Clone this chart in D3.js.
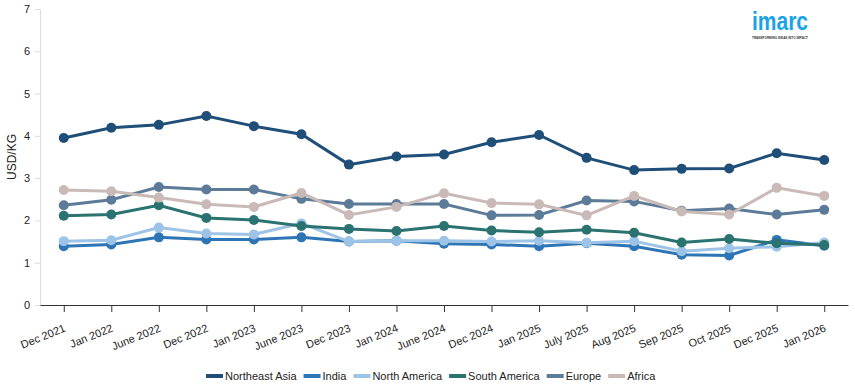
<!DOCTYPE html>
<html lang="en">
<head>
<meta charset="UTF-8">
<title>USD/KG prices by region</title>
<script src="https://d3js.org/d3.v7.min.js"></script>
<style>
    body { margin: 0; background: #fff; }
    svg { font-family: Arial, "Liberation Sans", sans-serif; }
</style>
</head>
<body>
<svg id="chart" width="855" height="390"></svg>
<script>
    // categories on the x axis
    var months = ['Dec 2021', 'Jan 2022', 'June 2022', 'Dec 2022', 'Jan 2023', 'June 2023',
        'Dec 2023', 'Jan 2024', 'June 2024', 'Dec 2024', 'Jan 2025', 'July 2025',
        'Aug 2025', 'Sep 2025', 'Oct 2025', 'Dec 2025', 'Jan 2026'];

    var northeastAsia = [3.95, 4.19, 4.26, 4.47, 4.23, 4.04, 3.32, 3.51, 3.56, 3.85, 4.02, 3.48, 3.19, 3.22, 3.23, 3.59, 3.43];
    var india = [1.39, 1.43, 1.60, 1.55, 1.55, 1.60, 1.50, 1.52, 1.45, 1.43, 1.39, 1.46, 1.39, 1.19, 1.17, 1.54, 1.40];
    var northAmerica = [1.51, 1.53, 1.83, 1.69, 1.67, 1.93, 1.50, 1.52, 1.52, 1.50, 1.52, 1.47, 1.51, 1.27, 1.34, 1.38, 1.48];
    var southAmerica = [2.11, 2.14, 2.36, 2.06, 2.01, 1.87, 1.80, 1.75, 1.87, 1.76, 1.72, 1.78, 1.71, 1.48, 1.56, 1.46, 1.42];
    var europe = [2.36, 2.49, 2.79, 2.73, 2.73, 2.51, 2.39, 2.39, 2.39, 2.12, 2.13, 2.47, 2.45, 2.23, 2.28, 2.14, 2.25];
    var africa = [2.72, 2.69, 2.54, 2.38, 2.32, 2.65, 2.13, 2.32, 2.64, 2.41, 2.38, 2.12, 2.58, 2.21, 2.14, 2.77, 2.58];

    var yTicks = [0, 1, 2, 3, 4, 5, 6, 7];

    var series = [
        { name: 'Northeast Asia', values: northeastAsia, color: '#1f4e79' },
        { name: 'India', values: india, color: '#2e75b6' },
        { name: 'North America', values: northAmerica, color: '#9dc3e6' },
        { name: 'South America', values: southAmerica, color: '#2a7370' },
        { name: 'Europe', values: europe, color: '#5b7b99' },
        { name: 'Africa', values: africa, color: '#c9bab8' }
    ];

    var margin = { top: 9, right: 7, bottom: 85, left: 40 },
        width = 855 - margin.left - margin.right,
        height = 390 - margin.top - margin.bottom;

    var svg = d3.select('#chart');
    var g = svg.append('g').attr('transform', 'translate(' + margin.left + ',' + margin.top + ')');

    var x = d3.scalePoint().domain(months).range([0, width]).padding(0.5);
    var y = d3.scaleLinear().domain([0, 7]).range([height, 0]);

    // y axis, light grey
    var yAxis = g.append('g')
        .call(d3.axisLeft(y).tickValues(yTicks).tickFormat(d3.format('d')).tickSize(5).tickPadding(5));
    yAxis.select('.domain').attr('stroke', '#dcdcdc');
    yAxis.selectAll('.tick line').attr('stroke', '#dcdcdc');
    yAxis.selectAll('text').attr('fill', '#222').style('font-size', '11px');

    // x axis, dark
    var xAxis = g.append('g')
        .attr('transform', 'translate(0,' + height + ')')
        .call(d3.axisBottom(x).tickSize(7).tickSizeOuter(0));
    xAxis.select('.domain').attr('stroke', '#333').attr('stroke-width', 1.2);
    xAxis.selectAll('.tick line').attr('stroke', '#333');
    xAxis.selectAll('text')
        .attr('fill', '#222')
        .style('font-size', '11px')
        .style('text-anchor', 'end')
        .attr('x', 0)
        .attr('y', 0)
        .attr('dy', 0)
        .attr('transform', 'translate(2,26) rotate(-22)');

    svg.append('text')
        .attr('transform', 'translate(16,' + (margin.top + height / 2) + ') rotate(-90)')
        .attr('text-anchor', 'middle')
        .style('font-size', '12px')
        .attr('fill', '#222')
        .text('USD/KG');

    var line = d3.line()
        .x(function (d, i) { return x(months[i]); })
        .y(function (d) { return y(d); });

    var lines = g.selectAll('g.series')
        .data(series)
        .join('g')
        .classed('series', true);

    lines.append('path')
        .attr('d', function (d) { return line(d.values); })
        .attr('fill', 'none')
        .attr('stroke', function (d) { return d.color; })
        .attr('stroke-width', 3);

    lines.selectAll('circle')
        .data(function (d) { return d.values.map(function (v, i) { return { v: v, i: i, color: d.color }; }); })
        .join('circle')
        .attr('cx', function (d) { return x(months[d.i]); })
        .attr('cy', function (d) { return y(d.v); })
        .attr('r', 5)
        .attr('fill', function (d) { return d.color; });

    // legend
    var legend = svg.append('g').attr('transform', 'translate(0,376)');
    var lx = 206;
    series.forEach(function (s) {
        var item = legend.append('g').attr('transform', 'translate(' + lx + ',0)');
        item.append('rect').attr('x', 0).attr('y', -2).attr('width', 17).attr('height', 4).attr('fill', s.color);
        var t = item.append('text')
            .attr('x', 19)
            .attr('y', 4)
            .style('font-size', '11px')
            .attr('fill', '#222')
            .text(s.name);
        lx += 19 + t.node().getComputedTextLength() + 7;
    });

    // logo
    var logo = svg.append('g').attr('transform', 'translate(752,0)');
    logo.append('text')
        .attr('x', 0).attr('y', 30)
        .style('font-size', '26px')
        .style('font-weight', 'bold')
        .attr('fill', '#1aa3e8')
        .attr('textLength', 56)
        .attr('lengthAdjust', 'spacingAndGlyphs')
        .text('imarc');
    logo.append('text')
        .attr('x', 0).attr('y', 39)
        .style('font-size', '4px')
        .style('font-weight', 'bold')
        .attr('fill', '#333')
        .attr('textLength', 56)
        .attr('lengthAdjust', 'spacingAndGlyphs')
        .text('TRANSFORMING IDEAS INTO IMPACT');
</script>
</body>
</html>
